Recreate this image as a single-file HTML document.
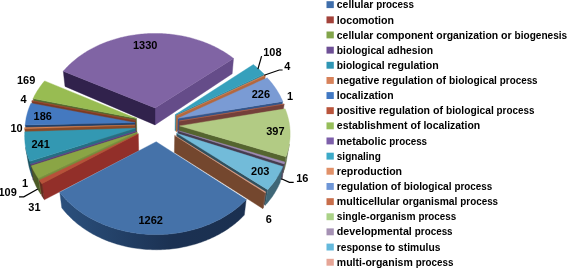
<!DOCTYPE html>
<html><head><meta charset="utf-8"><title>GO biological process pie chart</title>
<style>html,body{margin:0;padding:0;background:#fff}svg{display:block}</style></head>
<body>
<svg width="567" height="268" viewBox="0 0 567 268">
<defs><linearGradient id="gb" gradientUnits="userSpaceOnUse" x1="60" y1="0" x2="247" y2="0"><stop offset="0" stop-color="#2b507d"/><stop offset="0.3" stop-color="#234168"/><stop offset="0.6" stop-color="#1b3152"/><stop offset="1" stop-color="#1b3050"/></linearGradient></defs>
<rect width="567" height="268" fill="#fff"/>
<g stroke-width="0.4" stroke-linejoin="round">
<polygon points="155.0,107.9 233.5,58.4 232.2,73.7 155.0,124.9" fill="#654c89" stroke="#654c89"/>
<polygon points="155.0,107.9 63.3,71.2 65.0,86.4 155.0,124.9" fill="#31224c" stroke="#31224c"/>
<polygon points="175.3,114.7 263.9,74.0 261.9,90.2 175.0,130.7" fill="#2e8aa2" stroke="#2e8aa2"/>
<polygon points="176.3,115.8 265.4,75.5 263.3,91.6 176.0,131.8" fill="#b4683e" stroke="#b4683e"/>
<polygon points="136.5,118.4 33.1,98.6 35.5,114.7 136.9,134.4" fill="#55692f" stroke="#55692f"/>
<polygon points="178.1,118.3 282.7,101.4 280.3,117.5 177.6,134.3" fill="#34558a" stroke="#34558a"/>
<polygon points="135.6,120.4 31.8,101.0 34.2,117.1 136.0,136.4" fill="#7c3a22" stroke="#7c3a22"/>
<polygon points="179.2,121.0 284.2,104.1 281.7,120.2 178.7,137.0" fill="#74403a" stroke="#74403a"/>
<polygon points="135.0,122.7 25.2,125.1 27.8,141.0 135.5,138.7" fill="#203f68" stroke="#203f68"/>
<polygon points="134.9,125.1 24.6,128.7 27.3,144.7 135.3,141.1" fill="#8a4a26" stroke="#8a4a26"/>
<polygon points="179.7,125.9 285.9,156.7 283.2,172.5 179.3,141.8" fill="#55652f" stroke="#55652f"/>
<polygon points="135.3,128.2 29.8,161.3 32.4,177.1 135.8,144.1" fill="#256f82" stroke="#256f82"/>
<polygon points="178.3,130.8 284.1,163.9 281.5,179.7 177.8,146.8" fill="#453c4f" stroke="#453c4f"/>
<polygon points="136.5,131.1 30.7,164.5 33.3,180.2 136.9,147.0" fill="#503a6d" stroke="#503a6d"/>
<polygon points="289.3,144.0 289.1,145.4 288.8,146.8 288.5,148.2 288.1,149.7 287.7,151.1 287.3,152.5 286.9,153.9 286.4,155.3 285.9,156.7 283.2,172.5 283.7,171.1 284.2,169.7 284.7,168.3 285.1,166.9 285.4,165.5 285.8,164.1 286.1,162.7 286.4,161.2 286.6,159.8" fill="#627049" stroke="#627049"/>
<polygon points="29.8,161.3 29.2,159.9 28.7,158.6 28.2,157.2 27.7,155.8 27.3,154.4 26.9,153.0 26.5,151.6 26.2,150.2 25.9,148.8 25.6,147.4 28.3,163.2 28.6,164.6 28.9,166.0 29.2,167.4 29.6,168.8 30.0,170.2 30.4,171.6 30.8,172.9 31.3,174.3 31.8,175.7 32.4,177.1" fill="#1c5462" stroke="#1c5462"/>
<polygon points="137.2,132.3 38.3,178.6 40.8,194.2 137.6,148.2" fill="#778e3b" stroke="#778e3b"/>
<polygon points="138.3,133.8 41.8,183.7 44.3,199.8 138.7,150.8" fill="#922f29" stroke="#922f29"/>
<polygon points="176.7,133.3 267.7,189.7 265.3,205.2 176.3,149.2" fill="#31505d" stroke="#31505d"/>
<polygon points="174.7,135.4 265.2,192.7 262.9,208.7 174.4,152.4" fill="#74472e" stroke="#74472e"/>
<polygon points="284.9,162.0 284.5,163.0 284.1,163.9 281.5,179.7 281.9,178.7 282.3,177.7" fill="#584d65" stroke="#584d65"/>
<polygon points="30.7,164.5 30.7,164.4 33.3,180.1 33.3,180.2" fill="#3d2c52" stroke="#3d2c52"/>
<polygon points="38.3,178.6 37.5,177.3 36.7,176.1 35.9,174.8 35.2,173.6 34.5,172.3 33.8,171.0 33.1,169.7 32.5,168.4 31.9,167.1 31.3,165.8 33.9,181.5 34.5,182.8 35.1,184.1 35.7,185.4 36.3,186.7 37.0,188.0 37.7,189.2 38.4,190.5 39.2,191.7 40.0,193.0 40.8,194.2" fill="#4c5b26" stroke="#4c5b26"/>
<polygon points="282.8,166.5 282.2,168.0 281.5,169.4 280.8,170.8 280.1,172.2 279.3,173.6 278.6,175.0 277.7,176.4 276.9,177.8 276.0,179.2 275.1,180.5 274.1,181.9 273.1,183.2 272.1,184.5 271.0,185.8 269.9,187.1 268.8,188.4 267.7,189.7 265.3,205.2 266.5,204.0 267.6,202.7 268.6,201.4 269.7,200.1 270.7,198.8 271.7,197.5 272.6,196.2 273.5,194.8 274.4,193.5 275.2,192.1 276.0,190.7 276.8,189.3 277.5,187.9 278.3,186.5 278.9,185.1 279.6,183.7 280.2,182.3" fill="#3f6777" stroke="#3f6777"/>
<polygon points="41.8,183.7 41.0,182.6 40.1,181.4 39.3,180.2 41.8,195.9 42.6,197.0 43.4,198.2 44.3,199.3" fill="#652c20" stroke="#652c20"/>
<polygon points="265.8,192.0 265.2,192.7 262.9,208.2 263.5,207.6" fill="#805c4f" stroke="#805c4f"/>
<polygon points="246.2,199.6 245.0,200.9 243.7,202.1 242.4,203.3 241.1,204.5 239.8,205.7 238.4,206.9 237.0,208.0 235.5,209.2 234.1,210.3 232.6,211.4 231.0,212.5 229.5,213.5 227.9,214.5 226.3,215.6 224.7,216.5 223.0,217.5 221.4,218.5 219.7,219.4 217.9,220.3 216.2,221.1 214.4,222.0 212.6,222.8 210.8,223.6 209.0,224.4 207.1,225.1 205.3,225.8 203.4,226.5 201.5,227.2 199.5,227.8 197.6,228.4 195.6,229.0 193.7,229.6 191.7,230.1 189.7,230.6 187.7,231.1 185.7,231.5 183.6,231.9 181.6,232.3 179.5,232.7 177.5,233.0 175.4,233.3 173.3,233.6 171.2,233.8 169.2,234.0 167.1,234.2 165.0,234.3 162.9,234.4 160.8,234.5 158.6,234.6 156.5,234.6 154.4,234.6 152.3,234.5 150.2,234.5 148.1,234.4 146.0,234.2 143.9,234.1 141.8,233.9 139.7,233.7 137.7,233.4 135.6,233.1 133.5,232.8 131.5,232.5 129.4,232.1 127.4,231.7 125.4,231.3 123.4,230.8 121.4,230.3 119.4,229.8 117.4,229.3 115.4,228.7 113.5,228.1 111.6,227.5 109.6,226.8 107.7,226.1 105.9,225.4 104.0,224.7 102.2,223.9 100.4,223.1 98.6,222.3 96.8,221.5 95.0,220.6 93.3,219.8 91.6,218.8 89.9,217.9 88.2,217.0 86.6,216.0 85.0,215.0 83.4,214.0 81.8,212.9 80.3,211.8 78.8,210.8 77.3,209.7 75.9,208.5 74.5,207.4 73.1,206.2 71.7,205.0 70.4,203.8 69.1,202.6 67.8,201.4 66.6,200.1 65.3,198.9 64.2,197.6 63.0,196.3 61.9,195.0 60.8,193.7 59.8,192.3 61.8,207.9 62.9,209.2 63.9,210.5 65.0,211.8 66.1,213.1 67.3,214.4 68.5,215.6 69.7,216.8 71.0,218.1 72.2,219.3 73.5,220.5 74.9,221.6 76.2,222.8 77.6,223.9 79.0,225.0 80.5,226.1 82.0,227.2 83.5,228.3 85.0,229.3 86.5,230.3 88.1,231.3 89.7,232.3 91.4,233.2 93.0,234.2 94.7,235.1 96.4,235.9 98.1,236.8 99.8,237.6 101.6,238.4 103.4,239.2 105.2,240.0 107.0,240.7 108.8,241.4 110.7,242.1 112.6,242.7 114.4,243.3 116.3,243.9 118.3,244.5 120.2,245.0 122.1,245.5 124.1,246.0 126.1,246.5 128.0,246.9 130.0,247.3 132.0,247.7 134.1,248.0 136.1,248.3 138.1,248.6 140.1,248.8 142.2,249.1 144.2,249.3 146.3,249.4 148.3,249.5 150.4,249.6 152.4,249.7 154.5,249.7 156.6,249.8 158.6,249.7 160.7,249.7 162.7,249.6 164.8,249.5 166.8,249.3 168.9,249.2 170.9,249.0 173.0,248.7 175.0,248.5 177.0,248.2 179.0,247.9 181.1,247.5 183.1,247.1 185.0,246.7 187.0,246.3 189.0,245.8 190.9,245.3 192.9,244.8 194.8,244.3 196.7,243.7 198.6,243.1 200.5,242.4 202.4,241.8 204.2,241.1 206.0,240.4 207.9,239.6 209.6,238.9 211.4,238.1 213.2,237.3 214.9,236.4 216.6,235.6 218.3,234.7 220.0,233.8 221.6,232.8 223.2,231.9 224.8,230.9 226.4,229.9 227.9,228.9 229.5,227.8 230.9,226.8 232.4,225.7 233.9,224.6 235.3,223.5 236.6,222.3 238.0,221.2 239.3,220.0 240.6,218.8 241.9,217.6 243.1,216.3 244.3,215.1" fill="url(#gb)" stroke="url(#gb)"/>
</g>
<g stroke-width="0.4" stroke-linejoin="round">
<polygon points="156.2,141.7 246.2,199.6 245.0,200.9 243.7,202.1 242.4,203.3 241.1,204.5 239.8,205.7 238.4,206.9 237.0,208.0 235.5,209.2 234.1,210.3 232.6,211.4 231.0,212.5 229.5,213.5 227.9,214.5 226.3,215.6 224.7,216.5 223.0,217.5 221.4,218.5 219.7,219.4 217.9,220.3 216.2,221.1 214.4,222.0 212.6,222.8 210.8,223.6 209.0,224.4 207.1,225.1 205.3,225.8 203.4,226.5 201.5,227.2 199.5,227.8 197.6,228.4 195.6,229.0 193.7,229.6 191.7,230.1 189.7,230.6 187.7,231.1 185.7,231.5 183.6,231.9 181.6,232.3 179.5,232.7 177.5,233.0 175.4,233.3 173.3,233.6 171.2,233.8 169.2,234.0 167.1,234.2 165.0,234.3 162.9,234.4 160.8,234.5 158.6,234.6 156.5,234.6 154.4,234.6 152.3,234.5 150.2,234.5 148.1,234.4 146.0,234.2 143.9,234.1 141.8,233.9 139.7,233.7 137.7,233.4 135.6,233.1 133.5,232.8 131.5,232.5 129.4,232.1 127.4,231.7 125.4,231.3 123.4,230.8 121.4,230.3 119.4,229.8 117.4,229.3 115.4,228.7 113.5,228.1 111.6,227.5 109.6,226.8 107.7,226.1 105.9,225.4 104.0,224.7 102.2,223.9 100.4,223.1 98.6,222.3 96.8,221.5 95.0,220.6 93.3,219.8 91.6,218.8 89.9,217.9 88.2,217.0 86.6,216.0 85.0,215.0 83.4,214.0 81.8,212.9 80.3,211.8 78.8,210.8 77.3,209.7 75.9,208.5 74.5,207.4 73.1,206.2 71.7,205.0 70.4,203.8 69.1,202.6 67.8,201.4 66.6,200.1 65.3,198.9 64.2,197.6 63.0,196.3 61.9,195.0 60.8,193.7 59.8,192.3" fill="#4572a9" stroke="#4572a9"/>
<polygon points="138.3,133.8 41.8,183.7 41.0,182.6 40.1,181.4 39.3,180.2" fill="#b8503a" stroke="#b8503a"/>
<polygon points="137.2,132.3 38.3,178.6 37.5,177.3 36.7,176.1 35.9,174.8 35.2,173.6 34.5,172.3 33.8,171.0 33.1,169.7 32.5,168.4 31.9,167.1 31.3,165.8" fill="#8aa545" stroke="#8aa545"/>
<polygon points="136.5,131.1 30.7,164.5 30.7,164.4" fill="#6e5096" stroke="#6e5096"/>
<polygon points="135.3,128.2 29.8,161.3 29.2,159.9 28.7,158.6 28.2,157.2 27.7,155.8 27.3,154.4 26.9,153.0 26.5,151.6 26.2,150.2 25.9,148.8 25.6,147.4 25.4,146.0 25.2,144.5 25.0,143.1 24.9,141.7 24.8,140.3 24.7,138.9 24.7,137.5 24.6,136.1 24.7,134.6 24.7,133.2 24.8,131.8" fill="#3398b2" stroke="#3398b2"/>
<polygon points="134.9,125.1 24.6,128.7 24.7,127.5" fill="#d7824f" stroke="#d7824f"/>
<polygon points="135.0,122.7 25.2,125.1 25.3,123.7 25.5,122.3 25.7,120.9 25.9,119.5 26.1,118.1 26.4,116.7 26.8,115.3 27.1,114.0 27.5,112.6 27.9,111.2 28.3,109.9 28.8,108.5 29.3,107.2 29.8,105.9 30.4,104.6 31.0,103.2" fill="#4479c0" stroke="#4479c0"/>
<polygon points="135.6,120.4 31.8,101.0 32.0,100.6" fill="#a04a32" stroke="#a04a32"/>
<polygon points="136.5,118.4 33.1,98.6 33.7,97.4 34.3,96.1 34.9,94.9 35.6,93.7 36.3,92.5 37.0,91.3 37.8,90.1 38.6,88.9 39.4,87.7 40.2,86.5 41.0,85.4 41.9,84.2 42.8,83.1 43.7,82.0 44.6,80.9" fill="#98bc52" stroke="#98bc52"/>
<polygon points="155.0,107.9 63.3,71.2 64.3,70.0 65.3,68.9 66.3,67.8 67.4,66.7 68.5,65.6 69.6,64.6 70.7,63.5 71.8,62.5 73.0,61.5 74.2,60.5 75.4,59.5 76.6,58.5 77.8,57.6 79.1,56.6 80.4,55.7 81.7,54.8 83.0,53.9 84.3,53.0 85.7,52.2 87.0,51.3 88.4,50.5 89.8,49.7 91.3,48.9 92.7,48.2 94.2,47.4 95.6,46.7 97.1,46.0 98.6,45.3 100.1,44.6 101.6,44.0 103.2,43.3 104.7,42.7 106.3,42.1 107.9,41.5 109.4,41.0 111.0,40.4 112.6,39.9 114.3,39.4 115.9,38.9 117.5,38.5 119.2,38.0 120.8,37.6 122.5,37.2 124.2,36.8 125.8,36.5 127.5,36.1 129.2,35.8 130.9,35.5 132.6,35.2 134.3,35.0 136.0,34.7 137.7,34.5 139.5,34.3 141.2,34.1 142.9,34.0 144.7,33.8 146.4,33.7 148.1,33.6 149.9,33.5 151.6,33.5 153.3,33.5 155.1,33.5 156.8,33.5 158.6,33.5 160.3,33.5 162.0,33.6 163.8,33.7 165.5,33.8 167.2,34.0 169.0,34.1 170.7,34.3 172.4,34.5 174.1,34.7 175.8,34.9 177.5,35.2 179.2,35.5 180.9,35.8 182.6,36.1 184.3,36.4 186.0,36.8 187.7,37.2 189.3,37.6 191.0,38.0 192.6,38.4 194.2,38.9 195.9,39.4 197.5,39.9 199.1,40.4 200.7,40.9 202.3,41.5 203.8,42.1 205.4,42.7 207.0,43.3 208.5,43.9 210.0,44.6 211.5,45.2 213.0,45.9 214.5,46.6 216.0,47.4 217.4,48.1 218.9,48.9 220.3,49.7 221.7,50.5 223.1,51.3 224.4,52.1 225.8,53.0 227.1,53.8 228.4,54.7 229.7,55.6 231.0,56.5 232.3,57.5 233.5,58.4" fill="#8064a4" stroke="#8064a4"/>
<polygon points="175.3,114.7 253.4,64.5 254.5,65.4 255.6,66.3 256.7,67.3 257.8,68.2 258.9,69.1 259.9,70.1 260.9,71.1 262.0,72.0 262.9,73.0 263.9,74.0" fill="#36a0bc" stroke="#36a0bc"/>
<polygon points="176.3,115.8 265.0,75.1 265.4,75.5" fill="#d9855a" stroke="#d9855a"/>
<polygon points="178.1,118.3 267.2,77.8 268.3,78.9 269.3,80.1 270.3,81.2 271.3,82.4 272.2,83.6 273.1,84.8 274.0,86.0 274.9,87.2 275.8,88.5 276.6,89.7 277.4,91.0 278.1,92.2 278.9,93.5 279.6,94.8 280.3,96.1 280.9,97.4 281.6,98.8 282.2,100.1 282.7,101.4" fill="#7a9bd4" stroke="#7a9bd4"/>
<polygon points="179.2,121.0 284.1,104.0 284.2,104.1" fill="#c06a4b" stroke="#c06a4b"/>
<polygon points="179.7,125.9 285.1,108.8 285.7,110.2 286.2,111.5 286.7,112.9 287.1,114.3 287.5,115.6 287.9,117.0 288.3,118.4 288.6,119.8 288.9,121.2 289.2,122.6 289.4,124.0 289.6,125.4 289.8,126.8 289.9,128.2 290.0,129.7 290.1,131.1 290.1,132.5 290.1,133.9 290.1,135.4 290.1,136.8 290.0,138.2 289.9,139.7 289.7,141.1 289.5,142.5 289.3,144.0 289.1,145.4 288.8,146.8 288.5,148.2 288.1,149.7 287.7,151.1 287.3,152.5 286.9,153.9 286.4,155.3 285.9,156.7" fill="#b2cb84" stroke="#b2cb84"/>
<polygon points="178.3,130.8 284.9,162.0 284.5,163.0 284.1,163.9" fill="#a08cb8" stroke="#a08cb8"/>
<polygon points="176.7,133.3 282.8,166.5 282.2,168.0 281.5,169.4 280.8,170.8 280.1,172.2 279.3,173.6 278.6,175.0 277.7,176.4 276.9,177.8 276.0,179.2 275.1,180.5 274.1,181.9 273.1,183.2 272.1,184.5 271.0,185.8 269.9,187.1 268.8,188.4 267.7,189.7" fill="#72bbd9" stroke="#72bbd9"/>
<polygon points="174.7,135.4 265.8,192.0 265.2,192.7" fill="#e8a890" stroke="#e8a890"/>
</g>
<g fill="none" stroke="#000" stroke-width="1.2">
<polyline points="19,196.8 23.8,196.8 37.8,188.9"/>
<polyline points="261.6,56.2 257.9,69.1"/>
<polyline points="282.6,70 279.3,70 264.1,75.3"/>
<polyline points="293.7,182.4 289.4,182.4 281.4,178.7"/>
</g>
<g font-family="'Liberation Sans', Arial, sans-serif" font-weight="bold" font-size="10.8" fill="#000">
<rect x="326.5" y="1.2" width="7.3" height="6.9" fill="#3f6eab"/>
<text y="8.4"><tspan x="336.8" textLength="39.4" lengthAdjust="spacingAndGlyphs">cellular </tspan><tspan x="376.2" textLength="37.8" lengthAdjust="spacingAndGlyphs">process</tspan></text>
<rect x="326.5" y="16.4" width="7.3" height="6.9" fill="#a3423a"/>
<text y="23.5"><tspan x="336.8" textLength="57.2" lengthAdjust="spacingAndGlyphs">locomotion</tspan></text>
<rect x="326.5" y="31.5" width="7.3" height="6.9" fill="#82a54b"/>
<text y="38.7"><tspan x="336.8" textLength="39.4" lengthAdjust="spacingAndGlyphs">cellular </tspan><tspan x="376.2" textLength="60.0" lengthAdjust="spacingAndGlyphs">component </tspan><tspan x="436.3" textLength="64.8" lengthAdjust="spacingAndGlyphs">organization </tspan><tspan x="501.0" textLength="13.5" lengthAdjust="spacingAndGlyphs">or </tspan><tspan x="514.5" textLength="52.7" lengthAdjust="spacingAndGlyphs">biogenesis</tspan></text>
<rect x="326.5" y="46.7" width="7.3" height="6.9" fill="#6e5096"/>
<text y="53.8"><tspan x="336.8" textLength="50.7" lengthAdjust="spacingAndGlyphs">biological </tspan><tspan x="387.5" textLength="45.7" lengthAdjust="spacingAndGlyphs">adhesion</tspan></text>
<rect x="326.5" y="61.8" width="7.3" height="6.9" fill="#2f96b4"/>
<text y="68.9"><tspan x="336.8" textLength="50.7" lengthAdjust="spacingAndGlyphs">biological </tspan><tspan x="387.5" textLength="51.2" lengthAdjust="spacingAndGlyphs">regulation</tspan></text>
<rect x="326.5" y="77.0" width="7.3" height="6.9" fill="#d7825a"/>
<text y="84.1"><tspan x="336.8" textLength="45.3" lengthAdjust="spacingAndGlyphs">negative </tspan><tspan x="382.1" textLength="54.0" lengthAdjust="spacingAndGlyphs">regulation </tspan><tspan x="436.1" textLength="13.0" lengthAdjust="spacingAndGlyphs">of </tspan><tspan x="449.1" textLength="50.7" lengthAdjust="spacingAndGlyphs">biological </tspan><tspan x="499.8" textLength="37.8" lengthAdjust="spacingAndGlyphs">process</tspan></text>
<rect x="326.5" y="92.1" width="7.3" height="6.9" fill="#4178c3"/>
<text y="99.2"><tspan x="336.8" textLength="56.8" lengthAdjust="spacingAndGlyphs">localization</tspan></text>
<rect x="326.5" y="107.2" width="7.3" height="6.9" fill="#b9553c"/>
<text y="114.3"><tspan x="336.8" textLength="42.2" lengthAdjust="spacingAndGlyphs">positive </tspan><tspan x="379.0" textLength="54.0" lengthAdjust="spacingAndGlyphs">regulation </tspan><tspan x="432.9" textLength="13.0" lengthAdjust="spacingAndGlyphs">of </tspan><tspan x="446.0" textLength="50.7" lengthAdjust="spacingAndGlyphs">biological </tspan><tspan x="496.6" textLength="37.8" lengthAdjust="spacingAndGlyphs">process</tspan></text>
<rect x="326.5" y="122.4" width="7.3" height="6.9" fill="#96be5a"/>
<text y="129.4"><tspan x="336.8" textLength="73.6" lengthAdjust="spacingAndGlyphs">establishment </tspan><tspan x="410.4" textLength="13.0" lengthAdjust="spacingAndGlyphs">of </tspan><tspan x="423.4" textLength="56.8" lengthAdjust="spacingAndGlyphs">localization</tspan></text>
<rect x="326.5" y="137.5" width="7.3" height="6.9" fill="#7d5faa"/>
<text y="144.6"><tspan x="336.8" textLength="52.5" lengthAdjust="spacingAndGlyphs">metabolic </tspan><tspan x="389.3" textLength="37.8" lengthAdjust="spacingAndGlyphs">process</tspan></text>
<rect x="326.5" y="152.7" width="7.3" height="6.9" fill="#3caac8"/>
<text y="159.7"><tspan x="336.8" textLength="44.0" lengthAdjust="spacingAndGlyphs">signaling</tspan></text>
<rect x="326.5" y="167.8" width="7.3" height="6.9" fill="#e19169"/>
<text y="174.8"><tspan x="336.8" textLength="65.3" lengthAdjust="spacingAndGlyphs">reproduction</tspan></text>
<rect x="326.5" y="183.0" width="7.3" height="6.9" fill="#6e96d7"/>
<text y="190.0"><tspan x="336.8" textLength="54.0" lengthAdjust="spacingAndGlyphs">regulation </tspan><tspan x="390.8" textLength="13.0" lengthAdjust="spacingAndGlyphs">of </tspan><tspan x="403.8" textLength="50.7" lengthAdjust="spacingAndGlyphs">biological </tspan><tspan x="454.4" textLength="37.8" lengthAdjust="spacingAndGlyphs">process</tspan></text>
<rect x="326.5" y="198.2" width="7.3" height="6.9" fill="#c86e4b"/>
<text y="205.1"><tspan x="336.8" textLength="65.7" lengthAdjust="spacingAndGlyphs">multicellular </tspan><tspan x="402.5" textLength="57.8" lengthAdjust="spacingAndGlyphs">organismal </tspan><tspan x="460.3" textLength="37.8" lengthAdjust="spacingAndGlyphs">process</tspan></text>
<rect x="326.5" y="213.3" width="7.3" height="6.9" fill="#aad287"/>
<text y="220.2"><tspan x="336.8" textLength="81.6" lengthAdjust="spacingAndGlyphs">single-organism </tspan><tspan x="418.4" textLength="37.8" lengthAdjust="spacingAndGlyphs">process</tspan></text>
<rect x="326.5" y="228.4" width="7.3" height="6.9" fill="#a591b4"/>
<text y="235.4"><tspan x="336.8" textLength="78.0" lengthAdjust="spacingAndGlyphs">developmental </tspan><tspan x="414.8" textLength="37.8" lengthAdjust="spacingAndGlyphs">process</tspan></text>
<rect x="326.5" y="243.6" width="7.3" height="6.9" fill="#64b9dc"/>
<text y="250.5"><tspan x="336.8" textLength="48.1" lengthAdjust="spacingAndGlyphs">response </tspan><tspan x="384.9" textLength="13.3" lengthAdjust="spacingAndGlyphs">to </tspan><tspan x="398.1" textLength="42.3" lengthAdjust="spacingAndGlyphs">stimulus</tspan></text>
<rect x="326.5" y="258.8" width="7.3" height="6.9" fill="#e6a596"/>
<text y="265.6"><tspan x="336.8" textLength="78.9" lengthAdjust="spacingAndGlyphs">multi-organism </tspan><tspan x="415.7" textLength="37.8" lengthAdjust="spacingAndGlyphs">process</tspan></text>
</g>
<g font-family="'Liberation Sans', Arial, sans-serif" font-weight="bold" font-size="10.7" fill="#000">
<text x="132.9" y="49.0" textLength="24.5" lengthAdjust="spacingAndGlyphs">1330</text>
<text x="138.5" y="224.0" textLength="24.5" lengthAdjust="spacingAndGlyphs">1262</text>
<text x="17.0" y="84.3" textLength="18.3" lengthAdjust="spacingAndGlyphs">169</text>
<text x="20.4" y="103.3" textLength="6.1" lengthAdjust="spacingAndGlyphs">4</text>
<text x="33.6" y="119.6" textLength="18.3" lengthAdjust="spacingAndGlyphs">186</text>
<text x="10.5" y="131.6" textLength="12.2" lengthAdjust="spacingAndGlyphs">10</text>
<text x="31.5" y="147.6" textLength="18.3" lengthAdjust="spacingAndGlyphs">241</text>
<text x="21.9" y="186.7" textLength="6.1" lengthAdjust="spacingAndGlyphs">1</text>
<text x="-1.5" y="196.2" textLength="18.3" lengthAdjust="spacingAndGlyphs">109</text>
<text x="28.3" y="211.0" textLength="12.2" lengthAdjust="spacingAndGlyphs">31</text>
<text x="263.2" y="56.0" textLength="18.3" lengthAdjust="spacingAndGlyphs">108</text>
<text x="284.2" y="70.3" textLength="6.1" lengthAdjust="spacingAndGlyphs">4</text>
<text x="251.7" y="97.5" textLength="18.3" lengthAdjust="spacingAndGlyphs">226</text>
<text x="286.9" y="100.4" textLength="6.1" lengthAdjust="spacingAndGlyphs">1</text>
<text x="266.2" y="134.8" textLength="18.3" lengthAdjust="spacingAndGlyphs">397</text>
<text x="251.1" y="174.5" textLength="18.3" lengthAdjust="spacingAndGlyphs">203</text>
<text x="296.2" y="182.4" textLength="12.2" lengthAdjust="spacingAndGlyphs">16</text>
<text x="265.8" y="222.8" textLength="6.1" lengthAdjust="spacingAndGlyphs">6</text>
</g>
</svg>
</body></html>
